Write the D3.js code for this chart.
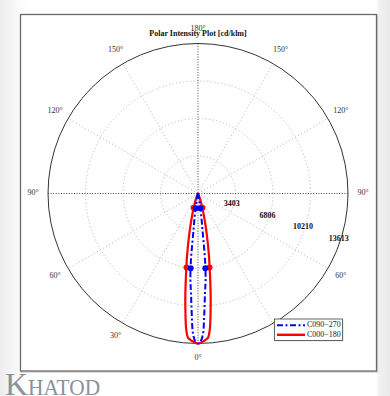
<!DOCTYPE html>
<html><head><meta charset="utf-8">
<script src="https://cdn.jsdelivr.net/npm/d3@7"></script>
<style>html,body{margin:0;padding:0;background:#fff;}svg{display:block;}</style>
</head><body>
<svg id="c" width="390" height="396"></svg>
<script>
// ---- data ----
const gammaAngles = [0,1,2,3,4,5,6,7,8,9,10,12,14,16,18,20,25,30,40,50,60,70,80,90];
const c000_180 = [13613,13560,13430,13300,13110,12340,10890,9440,7990,6720,5720,3900,2540,1630,1000,545,180,60,20,10,5,3,2,1];
const c090_270 = [13613,13431,12796,10890,9075,7895,6171,3358,2269,1361,908,454,272,182,91,60,30,15,8,5,3,2,1,1];
const redMarkAngles = [8.8, 16.9];
const redMarkValues = [6807, 1361];
const blueMarkAngles = [5.6, 8.7];
const blueMarkValues = [6807, 1361];
const ringValues = [3403, 6806, 10210, 13613];
const ringLabels = ["3403", "6806", "10210", "13613"];
const angleTicks = [0, 30, 60, 90, 120, 150, 180];
const seriesNames = ["C090\u2212270", "C000\u2212180"];
const title = "Polar Intensity Plot [cd/klm]";

// ---- layout ----
const svg = d3.select("#c");
const cx = 198, cy = 193.5, R = 150;
const rScale = d3.scaleLinear().domain([0, 13613]).range([0, R]);
const toRad = d => d * Math.PI / 180;
// gamma (0 = down); side +1 right, -1 left -> d3 radial angle
const radAngle = (g, side) => Math.PI - side * toRad(g);

// background
const defs = svg.append("defs");
const bg = defs.append("linearGradient").attr("id","bg").attr("x1","0").attr("x2","1").attr("y1","0").attr("y2","0");
[[0,"#ececec"],[0.05,"#fbfbfb"],[0.07,"#ffffff"],[0.965,"#ffffff"],[0.972,"#f1f1f1"],[1,"#e9e9e9"]]
  .forEach(s => bg.append("stop").attr("offset", s[0]).attr("stop-color", s[1]));
svg.append("rect").attr("width",390).attr("height",396).attr("fill","url(#bg)");

// frame
svg.append("rect").attr("x",21.5).attr("y",15.5).attr("width",356).attr("height",356.5)
  .attr("fill","none").attr("stroke","#d0d0d0").attr("stroke-width",1.5);
svg.append("rect").attr("x",20.5).attr("y",14.5).attr("width",356).attr("height",356.5)
  .attr("fill","#fff").attr("stroke","#6a6a6a").attr("stroke-width",1.3);

const g = svg.append("g").attr("transform", `translate(${cx},${cy})`);

// rings
g.selectAll("circle.ring").data(ringValues.slice(0,3)).join("circle")
  .attr("class","ring").attr("r", d => rScale(d))
  .attr("fill","none").attr("stroke","#b5b5b5").attr("stroke-width",0.9).attr("stroke-dasharray","1.2,2.3");

// spokes
const spokeAngles = [30,60,120,150];
[1,-1].forEach(side => {
  spokeAngles.forEach(a => {
    const ang = radAngle(a, side);
    g.append("line").attr("x1",0).attr("y1",0)
      .attr("x2", R*Math.sin(ang)).attr("y2", -R*Math.cos(ang))
      .attr("stroke","#b5b5b5").attr("stroke-width",0.9).attr("stroke-dasharray","1.2,2.3");
  });
});
// main axes
g.append("line").attr("x1",0).attr("y1",-R).attr("x2",0).attr("y2",R)
  .attr("stroke","#333").attr("stroke-width",0.9).attr("stroke-dasharray","1,1.6");
g.append("line").attr("x1",-R).attr("y1",0).attr("x2",R).attr("y2",0)
  .attr("stroke","#333").attr("stroke-width",0.9).attr("stroke-dasharray","1,1.6");

// outer circle
g.append("circle").attr("r", R).attr("fill","none").attr("stroke","#333").attr("stroke-width",1);

// angle labels
const LR = 165;
angleTicks.forEach(a => {
  const sides = (a === 0 || a === 180) ? [1] : [1,-1];
  sides.forEach(side => {
    const ang = radAngle(a, side);
    g.append("text").attr("x", LR*Math.sin(ang)).attr("y", -LR*Math.cos(ang) + (a===180 ? 1 : 0))
      .attr("text-anchor","middle").attr("dominant-baseline","middle")
      .attr("font-family","'Liberation Serif', serif").attr("font-size",8).attr("fill","#333")
      .text(a + "\u00b0");
  });
});

// title
g.append("text").attr("x",0).attr("y",-R-8).attr("text-anchor","middle")
  .attr("font-family","'Liberation Serif', serif").attr("font-weight","bold").attr("font-size",8).attr("fill","#111")
  .text(title);

// ring labels
ringValues.forEach((v,i) => {
  const ang = radAngle(72, 1);
  const rr = rScale(v) - 2;
  g.append("text").attr("x", rr*Math.sin(ang)).attr("y", -rr*Math.cos(ang))
    .attr("text-anchor","middle").attr("dominant-baseline","middle")
    .attr("font-family","'Liberation Serif', serif").attr("font-weight","bold").attr("font-size",8).attr("fill","#111")
    .text(ringLabels[i]);
});

// curves
function fullCurve(vals) {
  const pts = [];
  for (let i = gammaAngles.length-1; i >= 0; i--) pts.push([radAngle(gammaAngles[i], -1), rScale(vals[i])]);
  for (let i = 1; i < gammaAngles.length; i++) pts.push([radAngle(gammaAngles[i], 1), rScale(vals[i])]);
  return pts;
}
const line = d3.lineRadial().angle(d => d[0]).radius(d => d[1]).curve(d3.curveCatmullRom.alpha(0.5));

g.append("path").attr("d", line(fullCurve(c000_180))).attr("fill","none")
  .attr("stroke","#ff0000").attr("stroke-width",2.2).attr("stroke-linejoin","round");
function markers(angles, values, color) {
  angles.forEach((a,i) => {
    [1,-1].forEach(side => {
      const ang = radAngle(a, side), rr = rScale(values[i]);
      g.append("circle").attr("cx", rr*Math.sin(ang)).attr("cy", -rr*Math.cos(ang)).attr("r",3).attr("fill",color);
    });
  });
}
markers(redMarkAngles, redMarkValues, "#ff0000");
g.append("path").attr("d", line(fullCurve(c090_270))).attr("fill","none")
  .attr("stroke","#0000ff").attr("stroke-width",2).attr("stroke-dasharray","6,2.5,2,2.5");
markers(blueMarkAngles, blueMarkValues, "#0000ff");

// legend
const lg = svg.append("g").attr("transform","translate(274.5,319)");
lg.append("rect").attr("x",1).attr("y",1).attr("width",68).attr("height",21.5).attr("fill","#ddd");
lg.append("rect").attr("width",68).attr("height",21.5).attr("fill","#fff").attr("stroke","#555").attr("stroke-width",0.9);
const colors = ["#0000ff","#ff0000"];
const dashes = ["6,2.5,2,2.5", null];
seriesNames.forEach((n,i) => {
  const y = 6.3 + i*9.5;
  lg.append("line").attr("x1",2.5).attr("x2",30.5).attr("y1",y).attr("y2",y)
    .attr("stroke",colors[i]).attr("stroke-width", i ? 2.4 : 2).attr("stroke-dasharray", dashes[i]);
  lg.append("text").attr("x",32.5).attr("y",y).attr("dominant-baseline","middle")
    .attr("font-family","'Liberation Serif', serif").attr("font-size",8).attr("fill","#222").text(n);
});

// logo
const logo = svg.append("text").attr("x",5).attr("y",395).attr("font-family","'Liberation Serif', serif").attr("fill","#8a929b");
logo.append("tspan").attr("font-size",32).text("K");
logo.append("tspan").attr("font-size",24).attr("textLength",72).attr("lengthAdjust","spacingAndGlyphs").text("HATOD");
</script>
</body></html>
